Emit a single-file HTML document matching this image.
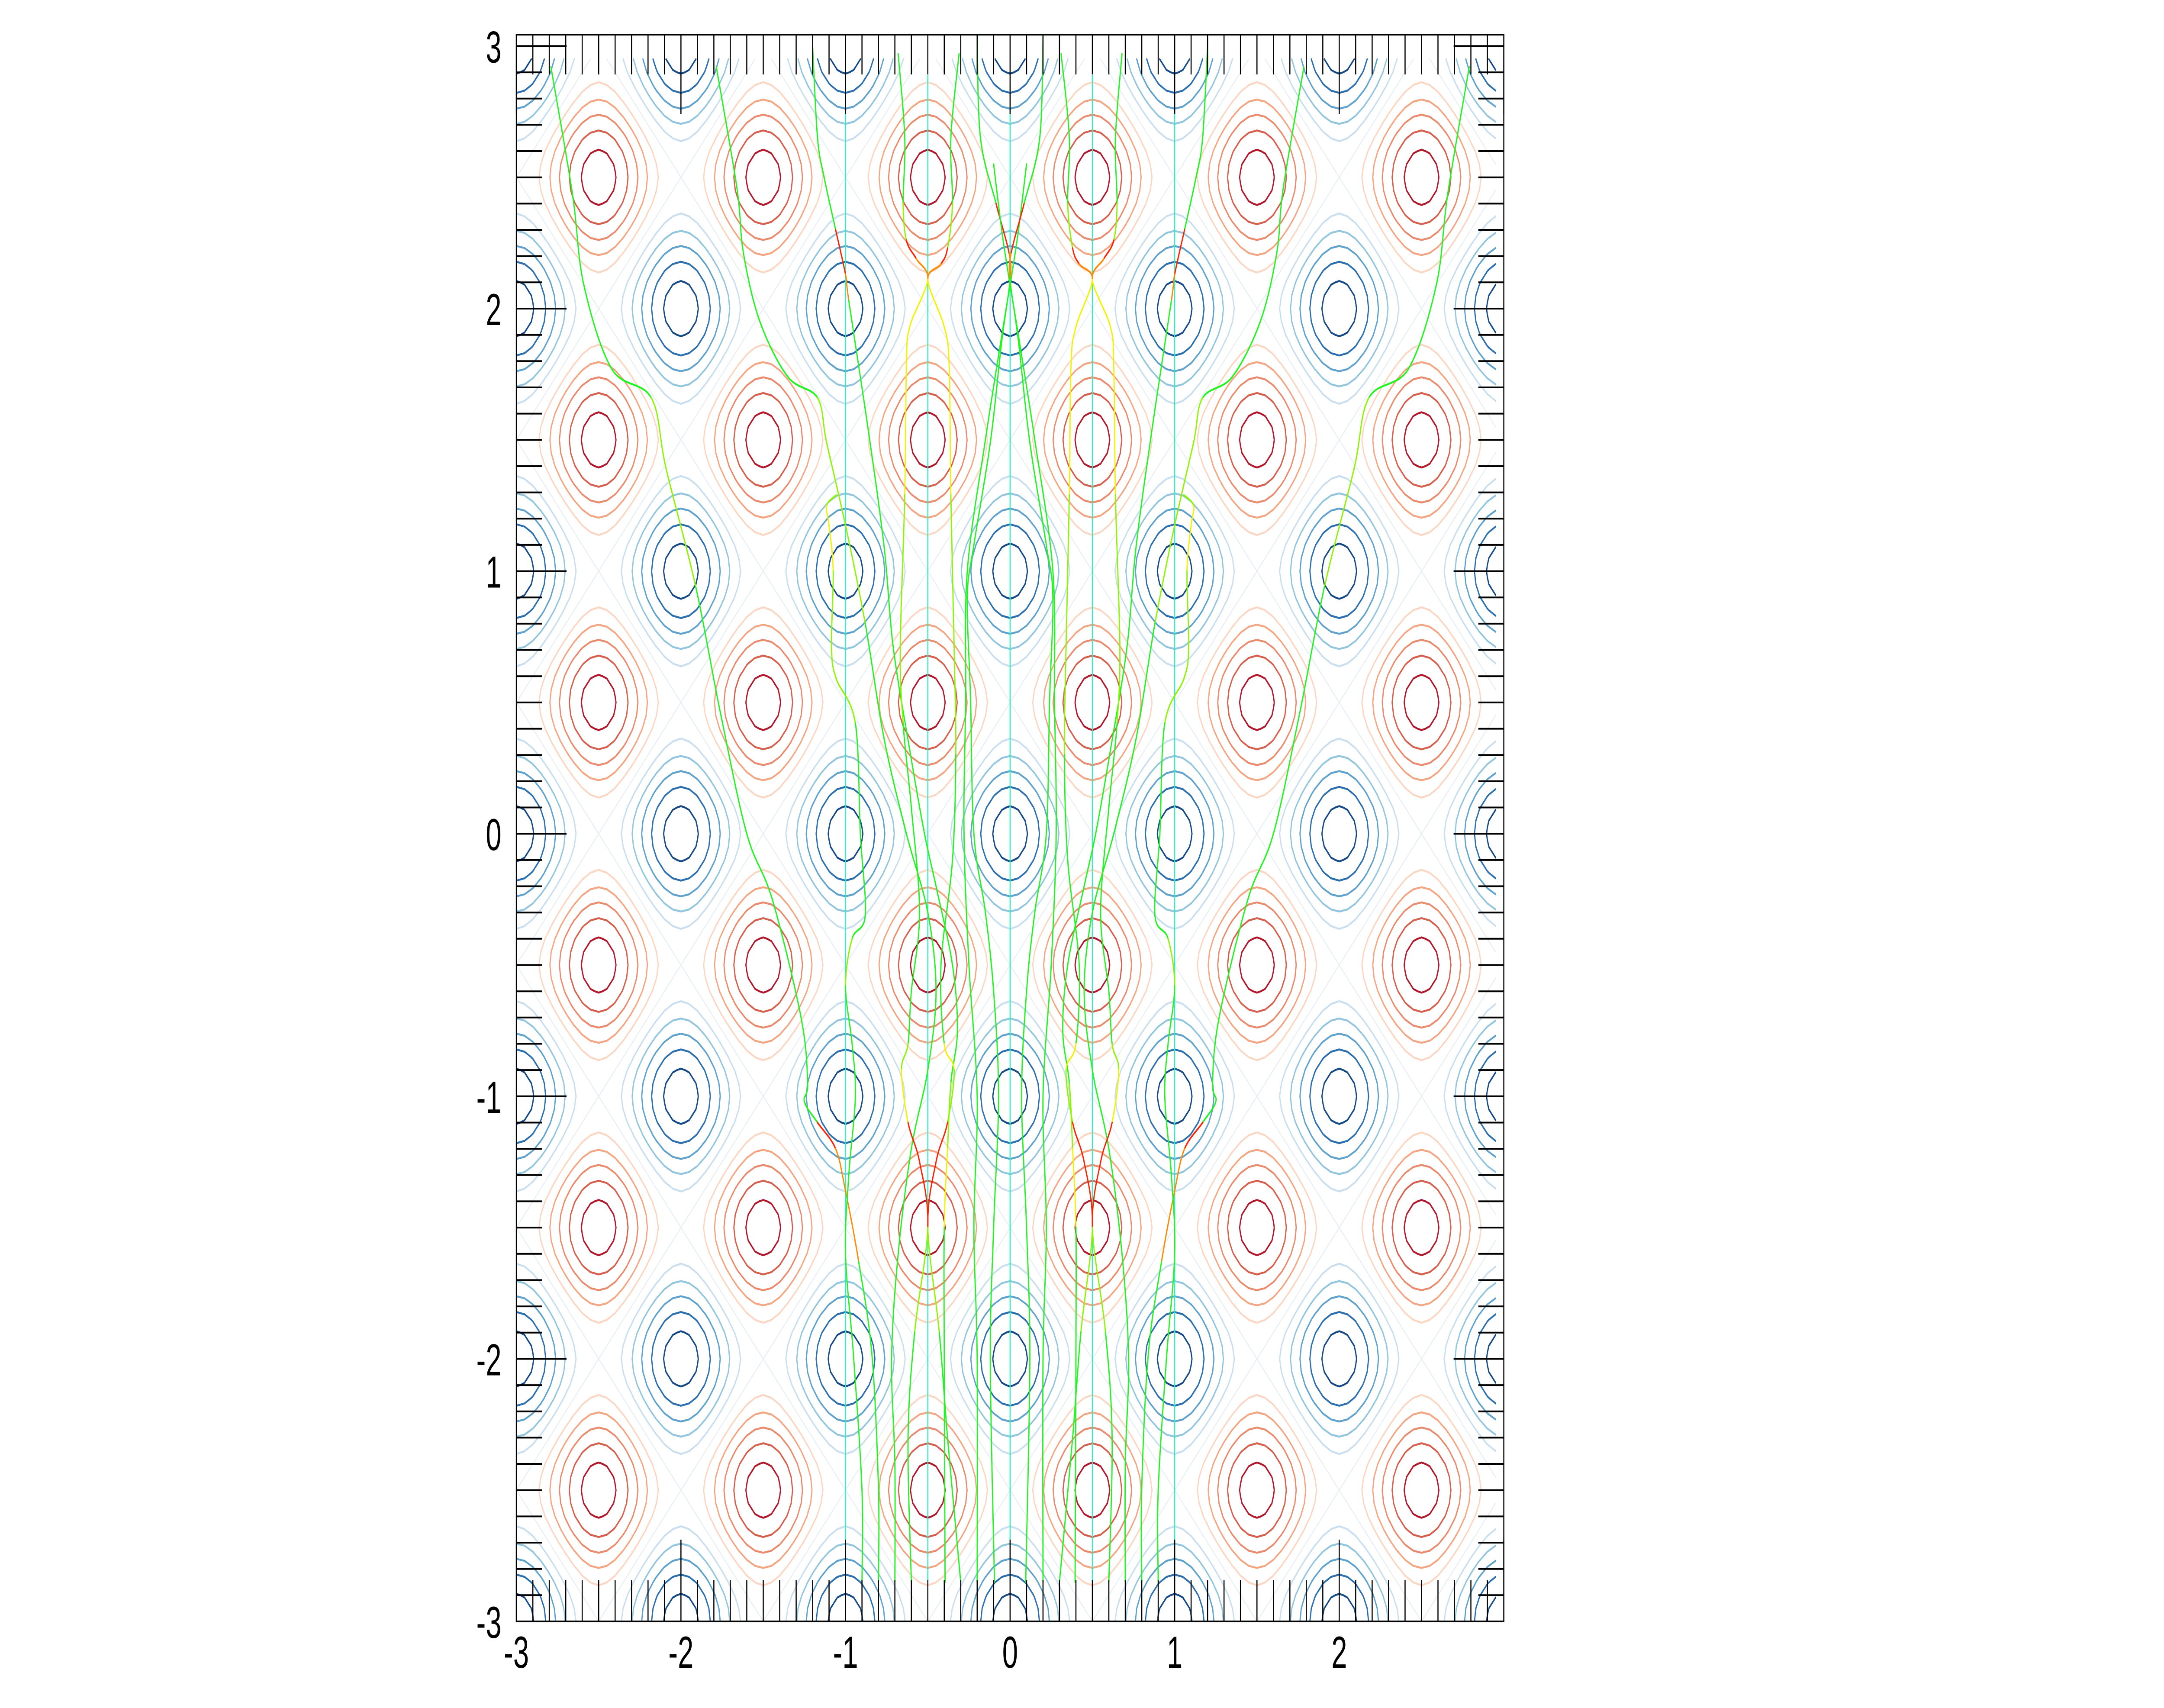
<!DOCTYPE html>
<html><head><meta charset="utf-8"><style>
html,body{margin:0;padding:0;background:#fff;width:100%;height:100%;overflow:hidden;}
svg{display:block;width:100vw;height:100vh;}
text{font-family:"Liberation Sans","DejaVu Sans",sans-serif;}
</style></head>
<body>
<svg id="chart" xmlns="http://www.w3.org/2000/svg" viewBox="0 0 7975 3946" preserveAspectRatio="none">
<defs><clipPath id="plotclip"><rect x="1903" y="80" width="3639" height="3666"/></clipPath></defs>
<rect x="0" y="0" width="7975" height="3946" fill="#fff"/>
<g id="contours" clip-path="url(#plotclip)"></g>
<g id="traj" clip-path="url(#plotclip)"></g>
<g id="ticks"></g>
<rect x="1903" y="80" width="3639" height="3666" fill="none" stroke="#000" stroke-width="4"/>
<g id="labels"></g>
</svg>
<script>
// ---- data ----
const xTickLabels = [-3,-2,-1,0,1,2];
const yTickLabels = [3,2,1,0,-1,-2,-3];
const contourLevels = [-1.786,-1.429,-1.071,-0.714,-0.357,0,0.357,0.714,1.071,1.429,1.786];
const contourColors = ['#b2182b','#d6604d','#ea8b6e','#f4a582','#fbd6c2','#e8eef3','#c9dff0','#92c5de','#5fa2cd','#2c6fae','#164a86'];
const cyanX = [-1,-0.5,0,0.5,1];
const cyanTop = [2.85,2.89,2.85,2.89,2.85];
const cyanBottom = [-2.85,-2.85,-2.85,-2.85,-2.85];

const trajA = [[-2.79,2.92],[-2.66,2.44],[-2.59,2.09],[-2.42,1.77],[-2.18,1.66],[-2.09,1.39],[-1.91,0.94],[-1.76,0.46],[-1.6,0.0],[-1.445,-0.25],[-1.27,-0.70],[-1.23,-0.95],[-1.25,-1.02],[-1.17,-1.10],[-1.06,-1.2],[-1.0,-1.36],[-0.92,-1.63],[-0.84,-1.98],[-0.80,-2.49],[-0.8,-2.85]];
const colA = 'ggggllgggggggrooggggg';
const trajB = [[-1.785,2.92],[-1.66,2.46],[-1.62,2.21],[-1.52,1.95],[-1.35,1.74],[-1.17,1.66],[-1.115,1.49],[-1.0,1.175],[-0.88,0.80],[-0.765,0.36],[-0.63,0.0],[-0.5,-0.3],[-0.45,-0.6],[-0.5,-0.9],[-0.6,-1.2],[-0.68,-1.6],[-0.72,-2.0],[-0.70,-2.4],[-0.7,-2.85]];
const colB = 'ggggglllgggggggggggg';
const trajC = [[-1.2,3.0],[-1.17,2.65],[-1.13,2.5],[-1.06,2.30],[-1.0,2.13],[-0.98,2.03],[-0.86,1.53],[-0.765,1.09],[-0.71,0.71],[-0.61,0.32],[-0.52,0.0],[-0.45,-0.2],[-0.35,-0.5],[-0.32,-0.75],[-0.36,-0.95],[-0.38,-1.2],[-0.40,-1.5],[-0.40,-2.0],[-0.395,-2.85]];
const colC = 'gggroggggggggglyggggg';
const trajD = [[-0.68,2.97],[-0.64,2.65],[-0.65,2.40],[-0.63,2.26],[-0.57,2.19],[-0.5,2.11],[-0.61,1.93],[-0.63,1.78],[-0.64,1.29],[-0.667,0.71],[-0.65,0.42],[-0.60,0.1],[-0.55,-0.3],[-0.6,-0.6],[-0.62,-0.8],[-0.66,-0.9],[-0.62,-1.1],[-0.55,-1.25],[-0.5,-1.5],[-0.58,-1.9],[-0.62,-2.3],[-0.60,-2.85]];
const colD = 'gglroyyyllgggglyrrlgggg';
const trajE = [[-0.31,2.97],[-0.36,2.65],[-0.35,2.40],[-0.38,2.23],[-0.42,2.17],[-0.5,2.11],[-0.40,1.93],[-0.37,1.78],[-0.36,1.29],[-0.34,0.71],[-0.33,0.3],[-0.35,-0.1],[-0.42,-0.5],[-0.40,-0.8],[-0.34,-0.9],[-0.38,-1.1],[-0.45,-1.25],[-0.5,-1.5],[-0.43,-1.9],[-0.38,-2.3],[-0.3,-2.85]];
const colE = 'gglroyyyllgggylrrlgggg';
const trajF = [[-0.2,3.04],[-0.18,2.65],[-0.085,2.40],[-0.006,2.21],[0,2.11],[-0.05,1.88],[-0.12,1.49],[-0.22,1.10],[-0.26,0.9],[-0.24,0.51],[-0.22,0.0],[-0.15,-0.3],[-0.1,-0.6],[-0.07,-1.0],[-0.1,-1.5],[-0.12,-2.0],[-0.095,-2.85]];
const colF = 'ggrogggggggggggggg';
const trajG = [[-1.056,1.29],[-1.115,1.25],[-1.1,1.175],[-1.075,1.0],[-1.085,0.71],[-1.056,0.59],[-0.94,0.42],[-0.91,0.0],[-0.88,-0.31],[-0.96,-0.40],[-1.0,-0.58],[-0.96,-0.8],[-0.94,-1.0],[-0.98,-1.3],[-1.0,-1.6],[-0.95,-2.0],[-0.9,-2.5],[-0.9,-2.85]];
const colG = 'lyylllggglggggggggg';
const trajI = [[0.1,2.55],[0.04,2.25],[-0.05,1.9],[-0.15,1.5],[-0.26,1.0],[-0.27,0.5],[-0.28,0],[-0.25,-0.5],[-0.2,-1.0],[-0.22,-1.5],[-0.2,-2.0],[-0.2,-2.85]];
const colI = 'gggggggggggg';

const trajA2 = [[2.79,2.92],[2.66,2.44],[2.59,2.09],[2.42,1.77],[2.18,1.66],[2.09,1.39],[1.91,0.94],[1.76,0.46],[1.6,0.0],[1.445,-0.25],[1.27,-0.70],[1.23,-0.95],[1.25,-1.02],[1.17,-1.10],[1.06,-1.2],[1.0,-1.36],[0.92,-1.63],[0.84,-1.98],[0.80,-2.49],[0.8,-2.85]];
const trajB2 = [[1.785,2.92],[1.66,2.46],[1.62,2.21],[1.52,1.95],[1.35,1.74],[1.17,1.66],[1.115,1.49],[1.0,1.175],[0.88,0.80],[0.765,0.36],[0.63,0.0],[0.5,-0.3],[0.45,-0.6],[0.5,-0.9],[0.6,-1.2],[0.68,-1.6],[0.72,-2.0],[0.70,-2.4],[0.7,-2.85]];
const trajC2 = [[1.2,3.0],[1.17,2.65],[1.13,2.5],[1.06,2.30],[1.0,2.13],[0.98,2.03],[0.86,1.53],[0.765,1.09],[0.71,0.71],[0.61,0.32],[0.52,0.0],[0.45,-0.2],[0.35,-0.5],[0.32,-0.75],[0.36,-0.95],[0.38,-1.2],[0.40,-1.5],[0.40,-2.0],[0.395,-2.85]];
const trajD2 = [[0.68,2.97],[0.64,2.65],[0.65,2.40],[0.63,2.26],[0.57,2.19],[0.5,2.11],[0.61,1.93],[0.63,1.78],[0.64,1.29],[0.667,0.71],[0.65,0.42],[0.60,0.1],[0.55,-0.3],[0.6,-0.6],[0.62,-0.8],[0.66,-0.9],[0.62,-1.1],[0.55,-1.25],[0.5,-1.5],[0.58,-1.9],[0.62,-2.3],[0.60,-2.85]];
const trajE2 = [[0.31,2.97],[0.36,2.65],[0.35,2.40],[0.38,2.23],[0.42,2.17],[0.5,2.11],[0.40,1.93],[0.37,1.78],[0.36,1.29],[0.34,0.71],[0.33,0.3],[0.35,-0.1],[0.42,-0.5],[0.40,-0.8],[0.34,-0.9],[0.38,-1.1],[0.45,-1.25],[0.5,-1.5],[0.43,-1.9],[0.38,-2.3],[0.3,-2.85]];
const trajF2 = [[0.2,3.04],[0.18,2.65],[0.085,2.40],[0.006,2.21],[0,2.11],[0.05,1.88],[0.12,1.49],[0.22,1.10],[0.26,0.9],[0.24,0.51],[0.22,0.0],[0.15,-0.3],[0.1,-0.6],[0.07,-1.0],[0.1,-1.5],[0.12,-2.0],[0.095,-2.85]];
const trajG2 = [[1.056,1.29],[1.115,1.25],[1.1,1.175],[1.075,1.0],[1.085,0.71],[1.056,0.59],[0.94,0.42],[0.91,0.0],[0.88,-0.31],[0.96,-0.40],[1.0,-0.58],[0.96,-0.8],[0.94,-1.0],[0.98,-1.3],[1.0,-1.6],[0.95,-2.0],[0.9,-2.5],[0.9,-2.85]];
const trajI2 = [[-0.1,2.55],[-0.04,2.25],[0.05,1.9],[0.15,1.5],[0.26,1.0],[0.27,0.5],[0.28,0],[0.25,-0.5],[0.2,-1.0],[0.22,-1.5],[0.2,-2.0],[0.2,-2.85]];

const trajectories = [trajA,trajB,trajC,trajD,trajE,trajF,trajG,trajI,trajA2,trajB2,trajC2,trajD2,trajE2,trajF2,trajG2,trajI2];
const trajColors = [colA,colB,colC,colD,colE,colF,colG,colI,colA,colB,colC,colD,colE,colF,colG,colI];
const colorMap = {g:'#1ff51f', l:'#8cf500', y:'#f2f200', o:'#ff8a00', r:'#ff2200'};

// ---- axes ----
const NS = 'http://www.w3.org/2000/svg';
const X = v => 1903 + (v + 3) * 606.5;
const Y = v => 3746 - (v + 3) * 606.6;

// ---- contours (marching squares) ----
const f = (x, y) => Math.cos(2*Math.PI*x) + Math.cos(2*Math.PI*y);
const step = 0.05, N = 120;
const gx = [], gy = [];
for (let i = 0; i < N; i++) { gx.push(-3 + i*step); gy.push(-3 + i*step); }
const grid = gy.map(y => gx.map(x => f(x, y)));
const cg = document.getElementById('contours');
contourLevels.forEach((lev, li) => {
  let d = '';
  const interp = (x1,y1,v1,x2,y2,v2) => { const t = (lev - v1)/(v2 - v1); return [x1 + t*(x2-x1), y1 + t*(y2-y1)]; };
  for (let j = 0; j < N-1; j++) for (let i = 0; i < N-1; i++) {
    const x0 = gx[i], x1 = gx[i+1], y0 = gy[j], y1 = gy[j+1];
    const a = grid[j][i], b = grid[j][i+1], c = grid[j+1][i+1], e = grid[j+1][i];
    const pts = [];
    if ((a < lev) !== (b < lev)) pts.push(interp(x0,y0,a,x1,y0,b));
    if ((b < lev) !== (c < lev)) pts.push(interp(x1,y0,b,x1,y1,c));
    if ((c < lev) !== (e < lev)) pts.push(interp(x1,y1,c,x0,y1,e));
    if ((e < lev) !== (a < lev)) pts.push(interp(x0,y1,e,x0,y0,a));
    for (let k = 0; k + 1 < pts.length; k += 2) {
      d += 'M' + X(pts[k][0]).toFixed(1) + ' ' + Y(pts[k][1]).toFixed(1) + 'L' + X(pts[k+1][0]).toFixed(1) + ' ' + Y(pts[k+1][1]).toFixed(1);
    }
  }
  const p = document.createElementNS(NS, 'path');
  p.setAttribute('d', d);
  p.setAttribute('fill', 'none');
  p.setAttribute('stroke', contourColors[li]);
  p.setAttribute('stroke-width', lev === 0 ? 3 : 4.5);
  p.setAttribute('stroke-linecap', 'round');
  
  
  cg.appendChild(p);
});

// ---- trajectories ----
const tg = document.getElementById('traj');
cyanX.forEach((cx, i) => {
  const l = document.createElementNS(NS, 'line');
  l.setAttribute('x1', X(cx)); l.setAttribute('x2', X(cx));
  l.setAttribute('y1', Y(cyanTop[i])); l.setAttribute('y2', Y(cyanBottom[i]));
  l.setAttribute('stroke', '#2cf0c0'); l.setAttribute('stroke-width', 4);
  
  
  tg.appendChild(l);
});
trajectories.forEach((tr, ti) => {
  const cs = trajColors[ti];
  const P = tr.map(p => [X(p[0]), Y(p[1])]);
  for (let k = 0; k + 1 < P.length; k++) {
    const p0 = P[Math.max(k-1,0)], p1 = P[k], p2 = P[k+1], p3 = P[Math.min(k+2,P.length-1)];
    const c1 = [p1[0] + (p2[0]-p0[0])/6, p1[1] + (p2[1]-p0[1])/6];
    const c2 = [p2[0] - (p3[0]-p1[0])/6, p2[1] - (p3[1]-p1[1])/6];
    const s = document.createElementNS(NS, 'path');
    s.setAttribute('d', 'M' + p1[0].toFixed(1) + ' ' + p1[1].toFixed(1) + 'C' + c1[0].toFixed(1) + ' ' + c1[1].toFixed(1) + ' ' + c2[0].toFixed(1) + ' ' + c2[1].toFixed(1) + ' ' + p2[0].toFixed(1) + ' ' + p2[1].toFixed(1));
    s.setAttribute('fill', 'none');
    s.setAttribute('stroke', colorMap[cs[k]] || colorMap.g);
    s.setAttribute('stroke-width', 4.5);
    s.setAttribute('stroke-linecap', 'round');
    
    
    tg.appendChild(s);
  }
});

// ---- ticks ----
const tk = document.getElementById('ticks');
let td = '';
for (let i = -30; i <= 30; i++) {
  const v = i / 10, major = (i % 10 === 0);
  const x = X(v).toFixed(1), y = Y(v).toFixed(1);
  td += 'M' + x + ' 80V' + (80 + (major ? 183 : 92));
  td += 'M' + x + ' 3746V' + (3746 - (major ? 189 : 95));
  td += 'M1903 ' + y + 'H' + (1903 + (major ? 185 : 94));
  td += 'M5542 ' + y + 'H' + (5542 - (major ? 185 : 94));
}
const tp = document.createElementNS(NS, 'path');
tp.setAttribute('d', td); tp.setAttribute('stroke', '#000'); tp.setAttribute('stroke-width', 4); tp.setAttribute('fill', 'none');


tk.appendChild(tp);

// ---- labels ----
const lg = document.getElementById('labels');
xTickLabels.forEach(v => {
  const t = document.createElementNS(NS, 'text');
  t.setAttribute('x', X(v)); t.setAttribute('y', 3853);
  t.setAttribute('text-anchor', 'middle'); t.setAttribute('font-size', 104);
  t.textContent = String(v);
  
  
  lg.appendChild(t);
});
yTickLabels.forEach(v => {
  const t = document.createElementNS(NS, 'text');
  t.setAttribute('x', 1848); t.setAttribute('y', Y(v) + 38);
  t.setAttribute('text-anchor', 'end'); t.setAttribute('font-size', 104);
  t.textContent = String(v);
  
  
  lg.appendChild(t);
});
</script>
</body></html>
